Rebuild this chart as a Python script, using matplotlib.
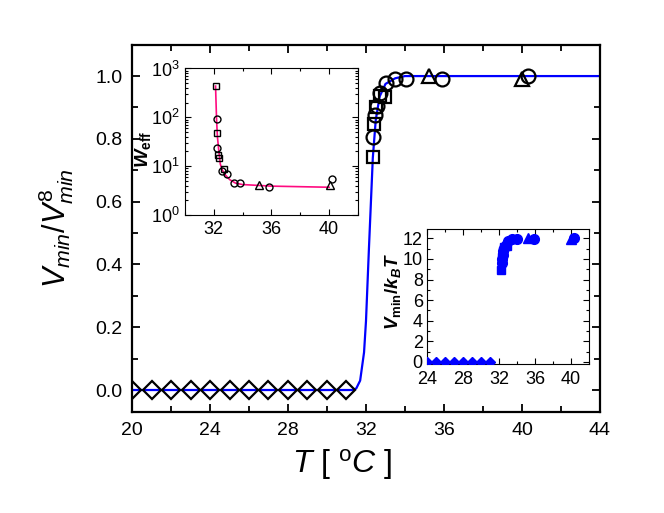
import numpy as np
import matplotlib
matplotlib.use("Agg")
import matplotlib.pyplot as plt
from matplotlib.ticker import MultipleLocator, LogLocator, NullFormatter

plt.rcParams['font.family'] = ['Liberation Sans', 'DejaVu Sans']
plt.rcParams['mathtext.fontset'] = 'custom'
plt.rcParams['mathtext.rm'] = 'Liberation Sans'
plt.rcParams['mathtext.it'] = 'Liberation Sans:italic'
plt.rcParams['mathtext.bf'] = 'Liberation Sans:bold'
plt.rcParams['mathtext.bfit'] = 'Liberation Sans:bold:italic'

# ---- main panel data ----
T_diam = [20, 21, 22, 23, 24, 25, 26, 27, 28, 29, 30, 31]
r_diam = [0, 0, 0, 0, 0, 0, 0, 0, 0, 0, 0, 0]
T_sq = [32.34, 32.40, 32.50, 32.70, 32.97]
r_sq = [0.743, 0.847, 0.900, 0.935, 0.934]
T_circ = [32.37, 32.46, 32.56, 32.72, 33.03, 33.50, 34.05, 35.90, 40.30]
r_circ = [0.807, 0.876, 0.905, 0.945, 0.977, 0.990, 0.990, 0.990, 1.000]
T_tri = [35.25, 39.98]
r_tri = [1.000, 0.990]
# fitted curve
T_fit = [20, 31.3, 31.5, 31.7, 31.9, 32.0, 32.15, 32.35, 32.5, 32.7, 33.0, 33.5, 34.0, 44]
r_fit = [0, 0, 0.005, 0.03, 0.12, 0.22, 0.45, 0.74, 0.86, 0.935, 0.975, 0.993, 1.0, 1.0]

# ---- inset 1: W_eff ----
Tw_sq = [32.12, 32.20, 32.27, 32.33, 32.70]
w_sq = [436, 47, 17, 14.5, 8.6]
Tw_circ = [32.19, 32.24, 32.55, 32.90, 33.37, 33.84, 35.80, 40.20]
w_circ = [91, 24, 8.05, 6.9, 4.45, 4.45, 3.8, 5.4]
Tw_tri = [35.10, 40.03]
w_tri = [4.1, 4.1]
Tw_line = [32.12, 32.19, 32.25, 32.35, 32.45, 32.6, 32.8, 33.1, 33.5, 34.0, 36.0, 40.0]
w_line = [436, 90, 40, 20, 11, 8.2, 6.6, 5.3, 4.5, 4.2, 3.9, 3.7]

# ---- inset 2: V_min / k_B T ----
Tv_diam = [24, 25, 26, 27, 28, 29, 30, 31]
v_diam = [0, 0, 0, 0, 0, 0, 0, 0]
Tv_sq = [32.26, 32.34, 32.45, 32.6, 32.9]
v_sq = [8.97, 10.2, 10.8, 11.2, 11.3]
Tv_circ = [32.32, 32.37, 32.42, 32.5, 32.6, 32.75, 33.0, 33.5, 34.0, 35.9, 40.3]
v_circ = [9.6, 10.0, 10.4, 10.8, 11.1, 11.4, 11.7, 11.9, 11.9, 11.9, 12.0]
Tv_tri = [35.2, 40.0]
v_tri = [12.0, 11.9]

blue = '#0000ff'
fig = plt.figure(figsize=(6.64, 5.13), dpi=100)

ax = fig.add_axes([0.1988, 0.1969, 0.7048, 0.7154])
ax.plot(T_fit, r_fit, color=blue, lw=1.6, zorder=2)
mk = dict(ls='none', mfc='none', mec='black', mew=1.6, zorder=3)
ax.plot(T_diam, r_diam, marker='D', ms=8.8, **mk)
ax.plot(T_sq, r_sq, marker='s', ms=8.5, **mk)
ax.plot(T_circ, r_circ, marker='o', ms=10, **mk)
ax.plot(T_tri, r_tri, marker='^', ms=10, **mk)
ax.set_xlim(20, 44)
ax.set_ylim(-0.07, 1.099)
ax.xaxis.set_major_locator(MultipleLocator(4))
ax.xaxis.set_minor_locator(MultipleLocator(2))
ax.yaxis.set_major_locator(MultipleLocator(0.2))
ax.yaxis.set_minor_locator(MultipleLocator(0.1))
ax.yaxis.set_major_formatter(plt.FuncFormatter(lambda v, p: f"{v:.1f}"))
ax.tick_params(which='both', direction='in', top=True, right=True, labelsize=14, width=1.3)
ax.tick_params(which='major', length=6, pad=7)
ax.tick_params(which='minor', length=4)
for s in ax.spines.values():
    s.set_linewidth(1.6)
ax.set_xlabel(r"$T\ [\ ^{\mathrm{o}}C\ ]$", fontsize=23)
ax.xaxis.set_label_coords(0.45, -0.095)
ax.set_ylabel(r"$V_{min}/V_{min}^{8}$", fontsize=22)
ax.yaxis.set_label_coords(-0.12, 0.5)

# inset 1
ax1 = fig.add_axes([0.2786, 0.5809, 0.2605, 0.2856])
ax1.plot(Tw_line, w_line, color='#ff0a80', lw=1.2, zorder=2)
mk1 = dict(ls='none', mfc='none', mec='black', mew=1.0, zorder=3)
ax1.plot(Tw_sq, w_sq, marker='s', ms=4, **mk1)
ax1.plot(Tw_circ, w_circ, marker='o', ms=5, **mk1)
ax1.plot(Tw_tri, w_tri, marker='^', ms=5.5, **mk1)
ax1.set_yscale('log')
ax1.set_xlim(30, 42)
ax1.set_ylim(1, 1000)
ax1.xaxis.set_major_locator(MultipleLocator(4))
ax1.xaxis.set_minor_locator(MultipleLocator(2))
ax1.yaxis.set_major_locator(LogLocator(base=10, numticks=10))
ax1.yaxis.set_minor_locator(LogLocator(base=10, subs=np.arange(2, 10), numticks=10))
ax1.yaxis.set_minor_formatter(NullFormatter())
ax1.tick_params(which='both', direction='in', top=True, right=True, labelsize=13, width=0.8)
ax1.tick_params(which='major', length=4, pad=4)
ax1.tick_params(which='minor', length=2)
for s in ax1.spines.values():
    s.set_linewidth(0.8)
ax1.set_ylabel(r"$\mathbfit{W}_{\mathbf{eff}}$", fontsize=14)
ax1.yaxis.set_label_coords(-0.185, 0.45)

# inset 2
ax2 = fig.add_axes([0.643, 0.2904, 0.244, 0.263])
mk2 = dict(ls='none', color=blue, zorder=3)
ax2.plot(Tv_diam, v_diam, marker='D', ms=5.5, **mk2)
ax2.plot(Tv_sq, v_sq, marker='s', ms=6, **mk2)
ax2.plot(Tv_circ, v_circ, marker='o', ms=7, **mk2)
ax2.plot(Tv_tri, v_tri, marker='^', ms=7.5, **mk2)
ax2.set_xlim(24, 42)
ax2.set_ylim(-0.2, 12.9)
ax2.xaxis.set_major_locator(MultipleLocator(4))
ax2.xaxis.set_minor_locator(MultipleLocator(2))
ax2.yaxis.set_major_locator(MultipleLocator(2))
ax2.yaxis.set_minor_locator(MultipleLocator(1))
ax2.tick_params(which='both', direction='in', top=True, right=True, labelsize=13, width=0.8)
ax2.tick_params(which='major', length=4, pad=3)
ax2.tick_params(axis='x', which='major', pad=5)
ax2.tick_params(which='minor', length=2)
for s in ax2.spines.values():
    s.set_linewidth(0.8)
ax2.set_ylabel(r"$\mathbfit{V}_{\mathbf{min}}\mathbf{/}\mathbfit{k}_{\mathbfit{B}}\mathbfit{T}$",
               fontsize=13.5)
ax2.yaxis.set_label_coords(-0.15, 0.54)

fig.savefig("out.png", dpi=100)
